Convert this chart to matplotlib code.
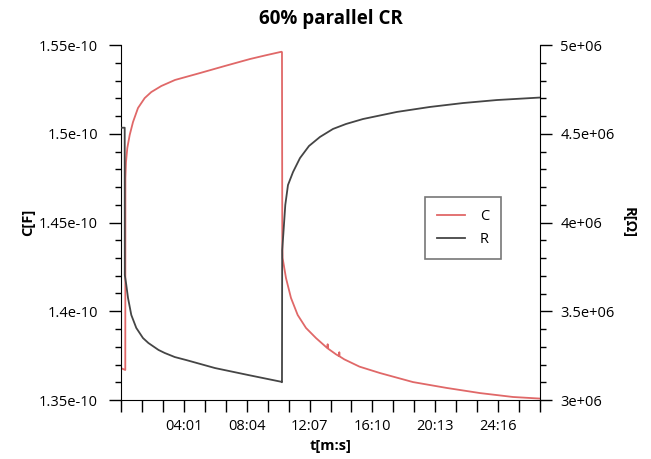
import matplotlib
matplotlib.use("Agg")
import matplotlib.pyplot as plt
from matplotlib.ticker import FixedLocator, FuncFormatter, MultipleLocator
import numpy as np

plt.rcParams['font.family'] = ['Open Sans', 'DejaVu Sans']

# capacitance trace, time in seconds, value in 1e-10 F
t_c = [1.9, 14.6, 15.0, 17.3, 22.4, 31.6, 44.4, 63.7, 89.6, 115.1, 153.8, 206.8,
       303.4, 400, 496.7, 554.7, 618.5, 620.4, 621.6, 622.8, 635.9, 655.2, 681.1,
       713.2, 751.9, 790.5, 796, 797, 798, 829.6, 841, 842, 843, 861.3, 920, 999,
       1126.9, 1257, 1386, 1513.5, 1618]
cap = [1.3677, 1.3669, 1.4751, 1.4841, 1.4920, 1.4993, 1.5066, 1.5145, 1.5201,
       1.5235, 1.5269, 1.5303, 1.5342, 1.5382, 1.5421, 1.5441, 1.5462, 1.5460,
       1.4401, 1.4300, 1.4187, 1.4075, 1.3979, 1.3906, 1.3849, 1.3799, 1.3792,
       1.3814, 1.3790, 1.3757, 1.3747, 1.3769, 1.3746, 1.3729, 1.3688, 1.3652,
       1.3601, 1.3568, 1.3539, 1.3517, 1.3508]

# resistance trace, time in seconds, value in 1e6 Ohm
t_r = [1.9, 12.3, 12.7, 18.5, 25.1, 37.8, 57.1, 83, 104, 143, 166.9, 206, 250.4,
       361.4, 489, 616.6, 620.4, 621.2, 625.4, 633.2, 643.6, 663, 690, 724.8,
       767.3, 817.6, 867.9, 933.6, 1065, 1192.6, 1320.2, 1451.6, 1618]
res = [4.534, 4.534, 3.704, 3.648, 3.575, 3.479, 3.406, 3.349, 3.321, 3.282,
       3.265, 3.242, 3.225, 3.180, 3.141, 3.103, 3.100, 3.845, 3.930, 4.099,
       4.211, 4.284, 4.363, 4.431, 4.482, 4.527, 4.555, 4.583, 4.623, 4.651,
       4.673, 4.690, 4.704]

cap = np.array(cap) * 1e-10
res = np.array(res) * 1e6

label_ticks = [241, 484, 727, 970, 1213, 1456]


def mmss(v, pos):
    s = int(round(v))
    if s not in label_ticks:
        return ''
    return '{:02d}:{:02d}'.format(s // 60, s % 60)


fig = plt.figure(figsize=(6.51, 4.59), dpi=100)
ax = fig.add_axes([121 / 651, 59 / 459, 419 / 651, 355 / 459])
ax2 = ax.twinx()

l1, = ax.plot(t_c, cap, color='#e06868', lw=1.3, label='C')
l2, = ax2.plot(t_r, res, color='#454545', lw=1.3, label='R')

ax.set_xlim(-2, 1618)
ax.set_ylim(1.35e-10, 1.55e-10)
ax2.set_ylim(3e6, 5e6)

ax.xaxis.set_major_locator(FixedLocator(np.arange(-2, 1619, 81)))
ax.xaxis.set_major_formatter(FuncFormatter(mmss))
ax.yaxis.set_major_locator(MultipleLocator(0.05e-10))
ax.yaxis.set_minor_locator(MultipleLocator(0.01e-10))
ax.yaxis.set_major_formatter(FuncFormatter(lambda v, p: '{:g}'.format(v)))
ax2.yaxis.set_major_locator(MultipleLocator(0.5e6))
ax2.yaxis.set_minor_locator(MultipleLocator(0.1e6))
ax2.yaxis.set_major_formatter(FuncFormatter(lambda v, p: '{:g}'.format(v)))

for a in (ax, ax2):
    a.spines['top'].set_visible(False)
    a.tick_params(which='major', length=8.5, width=1, labelsize=10.5, pad=8)
    a.tick_params(which='minor', length=4.5, width=1)
ax.tick_params(axis='x', pad=5.5)
ax2.tick_params(axis='y', pad=6)
ax.spines['right'].set_visible(False)
ax2.spines['left'].set_visible(False)
ax2.spines['bottom'].set_visible(False)

ax.set_title('60% parallel CR', fontweight='bold', fontsize=13.5, pad=15)
ax.set_xlabel('t[m:s]', fontweight='bold', fontsize=10.5, labelpad=3)
ax.set_ylabel('C[F]', fontweight='bold', fontsize=10.5, labelpad=3)
ax2.set_ylabel('R[\u03a9]', fontweight='bold', fontsize=10.5, rotation=-90, labelpad=15)

leg = ax.legend(handles=[l1, l2], loc='center left', bbox_to_anchor=(0.7255, 0.4845),
                fontsize=10.5, fancybox=False, edgecolor='#555555', borderaxespad=0,
                handlelength=1.9, borderpad=0.85, labelspacing=0.5, handletextpad=1.0)
leg.get_frame().set_linewidth(1.2)

fig.savefig('out.png', dpi=100)
